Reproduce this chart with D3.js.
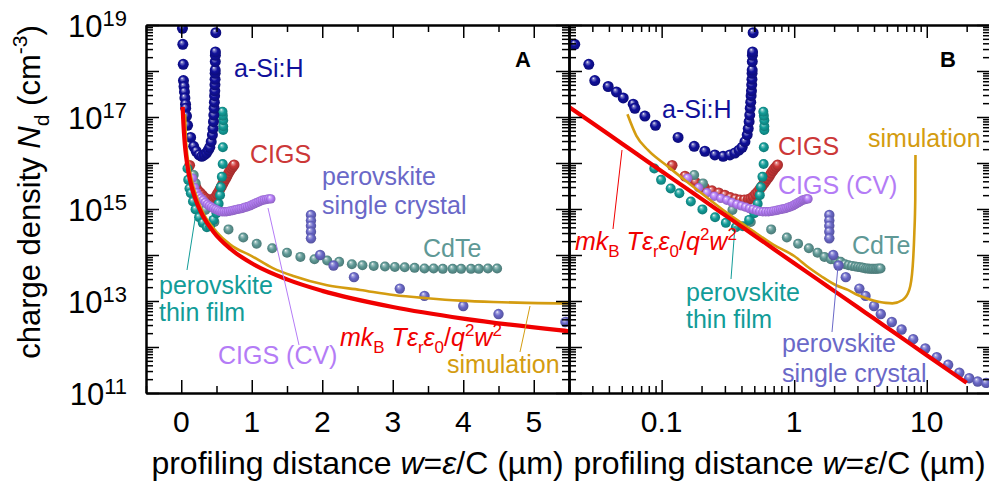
<!DOCTYPE html>
<html>
<head>
<meta charset="utf-8">
<script src="https://cdn.jsdelivr.net/npm/d3@7"></script>
<style>
body { margin: 0; background: #fff; }
text { font-family: "Liberation Sans", Arial, sans-serif; }
</style>
</head>
<body>
<div id="chart"></div>
<script>
// Values: [profiling distance w (um), charge density Nd (cm^-3)]
var aSiH = [[0.017,8.5e18],[0.0221,3.8e18],[0.0282,1.4e18],[0.0313,6.2e17],[0.0395,4.6e17],[0.0456,3.5e17],
    [0.0513,2.6e17],[0.061,1.9e17],[0.0628,1.55e17],[0.0747,1.05e17],[0.0898,6.6e16],[0.133,3.6e16],
    [0.176,2.3e16],[0.212,1.8e16],[0.252,1.5e16],[0.291,1.4e16],[0.327,1.5e16],[0.357,1.65e16],
    [0.383,1.9e16],[0.405,2.2e16],[0.425,2.9e16],[0.442,4.1e16],[0.45,5.6e16],[0.457,7.9e16],
    [0.462,1.1e17],[0.466,1.55e17],[0.47,2.1e17],[0.473,2.9e17],[0.476,3.7e17],[0.478,5.0e17],
    [0.48,6.6e17],[0.481,8.9e17],[0.482,1.05e18],[0.483,1.6e18],[0.484,2.2e18],[0.485,2.6e18],[0.49,6.8e18]];

var cigs = [[0.12,8.9e15],[0.15,5.2e15],[0.18,3.8e15],[0.21,2.95e15],[0.24,2.5e15],[0.27,2.25e15],
    [0.30,2.0e15],[0.33,1.78e15],[0.36,1.66e15],[0.39,1.58e15],[0.42,1.58e15],[0.45,1.62e15],
    [0.47,1.7e15],[0.49,1.86e15],[0.51,2.1e15],[0.53,2.35e15],[0.55,2.7e15],[0.57,3.1e15],
    [0.59,3.55e15],[0.61,4.0e15],[0.63,4.6e15],[0.65,5.2e15],[0.67,6.0e15],[0.69,6.8e15],
    [0.71,7.6e15],[0.73,8.3e15],[0.75,9.1e15]];

var cigsCV = [[0.157,4.7e15],[0.19,2.9e15],[0.22,2.25e15],[0.25,1.9e15],[0.28,1.7e15],[0.31,1.55e15],
    [0.34,1.38e15],[0.37,1.26e15],[0.40,1.17e15],[0.43,1.1e15],[0.46,1.02e15],[0.49,9.8e14],
    [0.52,9.3e14],[0.55,8.9e14],[0.58,8.7e14],[0.61,8.7e14],[0.64,8.7e14],[0.67,8.9e14],
    [0.70,9.1e14],[0.73,9.3e14],[0.76,9.5e14],[0.79,9.8e14],[0.82,1.0e15],[0.85,1.02e15],
    [0.88,1.05e15],[0.91,1.1e15],[0.94,1.12e15],[0.97,1.17e15],[1.00,1.23e15],[1.03,1.29e15],
    [1.06,1.35e15],[1.09,1.41e15],[1.12,1.48e15],[1.15,1.55e15],[1.18,1.58e15],[1.21,1.62e15],
    [1.24,1.66e15],[1.27,1.66e15]];

var thinFilm = [[0.088,7.6e15],[0.099,4.3e15],[0.117,2.8e15],[0.136,2.2e15],[0.166,1.45e15],
    [0.203,9.8e14],[0.253,6.6e14],[0.305,5.0e14],[0.363,4.0e14],[0.41,4.2e14],[0.457,5.8e14],
    [0.50,8.1e14],[0.53,1.3e15],[0.55,2.0e15],[0.56,3.0e15],[0.576,5.0e15],[0.588,9.5e15],
    [0.59,2.2e16],[0.595,5.2e16],[0.595,6.3e16],[0.595,8.5e16],[0.59,1.07e17],[0.585,1.3e17]];

var cdte = [[0.176,5.5e15],[0.205,3.6e15],[0.342,9.5e14],[0.47,5.2e14],[0.67,3.6e14],[0.88,2.4e14],
    [1.07,1.75e14],[1.29,1.4e14],[1.5,1.12e14],[1.69,9.1e13],[1.89,8.1e13],[2.07,7.6e13],
    [2.24,7.1e13],[2.42,6.3e13],[2.57,6.0e13],[2.73,5.8e13],[2.89,5.6e13],[3.03,5.5e13],
    [3.17,5.4e13],[3.31,5.25e13],[3.45,5.1e13],[3.58,5.1e13],[3.71,5.0e13],[3.85,5.0e13],
    [3.97,5.0e13],[4.11,5.0e13],[4.22,5.0e13],[4.35,5.1e13],[4.48,5.1e13]];

var singleCrystal = [[1.84,7.4e14],[1.84,5.6e14],[1.84,4.3e14],[1.84,3.2e14],[1.84,2.3e14],
    [1.97,1.0e14],[2.16,5.9e13],[2.45,3.3e13],[3.1,1.86e13],[3.45,1.29e13],[4.0,7.8e12],
    [4.5,5.2e12],[5.45,3.5e12],[6.46,2.4e12],[7.9,1.48e12],[9.75,9.3e11],[11.9,6.0e11],
    [14.5,4.1e11],[17.6,2.75e11],[20.9,2.1e11],[24.2,1.78e11],[28,1.66e11]];

var simulation = [[0.0552,1.15e17],[0.0645,3.9e16],[0.079,1.9e16],[0.112,8.3e15],[0.15,4.2e15],
    [0.2,2.2e15],[0.3,8.9e14],[0.5,3.2e14],[0.7,1.66e14],[1.0,9.5e13],[1.3,5.2e13],[1.59,3.5e13],
    [2.07,2.2e13],[2.54,1.74e13],[3.01,1.35e13],[3.49,1.15e13],[3.96,1.02e13],[4.43,9.5e12],
    [4.9,9.1e12],[5.5,8.9e12],[6.57,1.05e13],[7.38,1.74e13],[7.83,5.6e13],[8.06,3.0e14],
    [8.19,1.6e15],[8.22,1.5e16]];

// m kB T er e0 / q^2 w^2 curve
var debyeLimit = [[0.02,1.66e17],[0.03,7.4e16],[0.05,2.65e16],[0.07,1.35e16],[0.1,6.6e15],
    [0.15,2.95e15],[0.2,1.66e15],[0.3,7.4e14],[0.45,3.3e14],[0.7,1.35e14],[1,6.6e13],
    [1.5,2.95e13],[2,1.66e13],[3,7.4e12],[4,4.15e12],[5.5,2.2e12],[10,6.6e11],[20,1.66e11]];

var xTicksA = [0, 1, 2, 3, 4, 5];
var xTicksB = [0.1, 1, 10];
var yLabelExps = [11, 13, 15, 17, 19];

var W = 989, H = 486;
var plotTop = 25, plotBottom = 393;

var svg = d3.select('#chart').append('svg')
    .attr('width', W)
    .attr('height', H);
var defs = svg.append('defs');

var y = d3.scaleLog().domain([1e11, 1e19]).range([plotBottom, plotTop]);

var colors = {
    asi: '#10109a', cigs: '#cc3838', cv: '#b47cf6', thin: '#129c98',
    cdte: '#5f9996', sc: '#6a68c8', sim: '#d49c10', red: '#f00000'
};

// shaded ball fill
function ballGradient(id, c) {
    var g = defs.append('radialGradient').attr('id', id)
        .attr('cx', '50%').attr('cy', '50%').attr('r', '55%')
        .attr('fx', '36%').attr('fy', '28%');
    g.append('stop').attr('offset', '0%').attr('stop-color', '#fff');
    g.append('stop').attr('offset', '18%').attr('stop-color', d3.interpolateRgb(c, '#fff')(0.45));
    g.append('stop').attr('offset', '50%').attr('stop-color', c);
    g.append('stop').attr('offset', '100%').attr('stop-color', d3.color(c).darker(0.8));
}
Object.keys(colors).forEach(function(k) { ballGradient('ball-' + k, colors[k]); });

var series = [
    {data: cigs, key: 'cigs', r: 5.4},
    {data: cdte, key: 'cdte', r: 5},
    {data: thinFilm, key: 'thin', r: 5},
    {data: singleCrystal, key: 'sc', r: 5.2},
    {data: cigsCV, key: 'cv', r: 4.7},
    {data: aSiH, key: 'asi', r: 5.5}
];

// text with italic / sub / sup parts
function rich(sel, parts, fs) {
    var shift = 0;
    parts.forEach(function(p) {
        var s = p[1] || '';
        var target = s.indexOf('sub') >= 0 ? 0.28 : (s.indexOf('sup') >= 0 ? -0.42 : 0);
        var small = target !== 0;
        var ts = sel.append('tspan').text(p[0])
            .attr('font-size', small ? fs * 0.68 : fs)
            .attr('dy', (target - shift) * fs);
        if (s.indexOf('i') === 0) ts.attr('font-style', 'italic');
        shift = target;
    });
}

function label(g, x, yy, txt, color, fs) {
    return g.append('text').attr('x', x).attr('y', yy)
        .attr('fill', color).attr('font-size', fs || 25).text(txt);
}

function pointer(g, x1, y1, x2, y2, color) {
    g.append('line').attr('x1', x1).attr('y1', y1).attr('x2', x2).attr('y2', y2)
        .attr('stroke', color).attr('stroke-width', 1);
}

var formulaParts = [['m','i'],['k','i'],['B','sub'],[' T','i'],['\u03b5','i'],['r','sub'],
    ['\u03b5','i'],['0','sub'],['/',''],['q','i'],['2','sup'],['w','i'],['2','sup']];

function drawPanel(p) {
    var x = p.scale;
    var g = svg.append('g');

    g.append('clipPath').attr('id', 'clip-' + p.key)
      .append('rect').attr('x', p.x0).attr('y', plotTop)
        .attr('width', p.x1 - p.x0).attr('height', plotBottom - plotTop);

    var plot = g.append('g').attr('clip-path', 'url(#clip-' + p.key + ')');

    series.forEach(function(s) {
        plot.append('g').selectAll('circle')
            .data(s.data)
          .enter().append('circle')
            .attr('cx', function(d) { return x(d[0]); })
            .attr('cy', function(d) { return y(d[1]); })
            .attr('r', s.r)
            .attr('fill', 'url(#ball-' + s.key + ')');
    });

    var line = d3.line()
        .x(function(d) { return x(d[0]); })
        .y(function(d) { return y(d[1]); })
        .curve(d3.curveMonotoneX);

    plot.append('path').datum(simulation)
        .attr('d', line).attr('fill', 'none')
        .attr('stroke', colors.sim).attr('stroke-width', 2.6);

    plot.append('path').datum(debyeLimit)
        .attr('d', line).attr('fill', 'none')
        .attr('stroke', colors.red).attr('stroke-width', 4.2);

    // axes: major + minor ticks on all four sides, pointing inward
    var yMajor = d3.range(11, 20).map(function(e) { return Math.pow(10, e); });
    var yMinor = [];
    d3.range(11, 19).forEach(function(e) {
        d3.range(2, 10).forEach(function(m) { yMinor.push(m * Math.pow(10, e)); });
    });

    function axisG(axis, tx, ty) {
        var a = g.append('g')
            .attr('transform', 'translate(' + tx + ',' + ty + ')')
            .call(axis);
        a.selectAll('text').remove();
        a.select('.domain').attr('stroke-width', 2);
        a.selectAll('.tick line').attr('stroke-width', 1.5);
        return a;
    }

    [[d3.axisLeft, p.x0], [d3.axisRight, p.x1]].forEach(function(s) {
        axisG(s[0](y).tickValues(yMajor).tickSize(-13).tickSizeOuter(0), s[1], 0);
        axisG(s[0](y).tickValues(yMinor).tickSize(-7).tickSizeOuter(0), s[1], 0);
    });
    [[d3.axisBottom, plotBottom], [d3.axisTop, plotTop]].forEach(function(s) {
        axisG(s[0](x).tickValues(p.major).tickSize(-13).tickSizeOuter(0), 0, s[1]);
        axisG(s[0](x).tickValues(p.minor).tickSize(-7).tickSizeOuter(0), 0, s[1]);
    });

    // tick labels
    g.selectAll('.xlab').data(p.labels).enter().append('text')
        .attr('x', function(d) { return x(d); })
        .attr('y', 432)
        .attr('text-anchor', 'middle')
        .attr('font-size', 30)
        .text(function(d) { return d; });

    // axis title
    var t = g.append('text').attr('x', (p.x0 + p.x1) / 2).attr('y', 474)
        .attr('text-anchor', 'middle');
    rich(t, [['profiling distance ',''],['w','i'],['=',''],['\u03b5','i'],['/C (\u00b5m)','']], 32);

    // panel letter
    g.append('text').attr('x', p.letterX).attr('y', 67)
        .attr('font-size', 22).attr('font-weight', 'bold').text(p.key);

    p.annotate(g);
}

var panels = [
    {
        key: 'A', x0: 146, x1: 569, letterX: 515,
        scale: d3.scaleLinear().domain([-0.5, 5.5]).range([146, 569]),
        major: xTicksA, minor: d3.range(-0.5, 5.6, 0.5).filter(function(v) { return v % 1 !== 0; }),
        labels: xTicksA,
        annotate: function(g) {
            label(g, 234, 77, 'a-Si:H', colors.asi);
            label(g, 250, 163, 'CIGS', colors.cigs);
            label(g, 322, 185, 'perovskite', colors.sc);
            label(g, 322, 214, 'single crystal', colors.sc);
            label(g, 423, 257, 'CdTe', colors.cdte);
            label(g, 159, 294, 'perovskite', colors.thin);
            label(g, 159, 321, 'thin film', colors.thin);
            pointer(g, 187, 270, 195, 219, colors.thin);
            label(g, 218, 364, 'CIGS (CV)', colors.cv);
            pointer(g, 299, 345, 268, 208, colors.cv);
            label(g, 447, 373, 'simulation', colors.sim);
            pointer(g, 520, 352, 530, 306, colors.sim);
            var f = g.append('text').attr('x', 340).attr('y', 346).attr('fill', colors.red);
            rich(f, formulaParts, 25);
        }
    },
    {
        key: 'B', x0: 569, x1: 990, letterX: 940,
        scale: d3.scaleLog().domain([0.02, 30]).range([569, 990]),
        major: xTicksB,
        minor: [0.02,0.03,0.04,0.05,0.06,0.07,0.08,0.09,0.2,0.3,0.4,0.5,0.6,0.7,0.8,0.9,
            2,3,4,5,6,7,8,9,20,30],
        labels: xTicksB,
        annotate: function(g) {
            label(g, 662, 118, 'a-Si:H', colors.asi);
            label(g, 778, 155, 'CIGS', colors.cigs);
            label(g, 778, 194, 'CIGS (CV)', colors.cv);
            label(g, 868, 147, 'simulation', colors.sim);
            label(g, 852, 254, 'CdTe', colors.cdte);
            label(g, 686, 301, 'perovskite', colors.thin);
            label(g, 686, 328, 'thin film', colors.thin);
            pointer(g, 731, 279, 735, 226, colors.thin);
            label(g, 782, 352, 'perovskite', colors.sc);
            label(g, 782, 382, 'single crystal', colors.sc);
            pointer(g, 832, 332, 838, 266, colors.sc);
            var f = g.append('text').attr('x', 575).attr('y', 250).attr('fill', colors.red);
            rich(f, formulaParts, 25);
            pointer(g, 613, 229, 622, 150, colors.red);
        }
    }
];

panels.forEach(drawPanel);

// y tick labels (every other decade)
yLabelExps.forEach(function(e) {
    var t = svg.append('text').attr('x', 127).attr('y', y(Math.pow(10, e)) + 12)
        .attr('text-anchor', 'end');
    t.append('tspan').attr('font-size', 31).text('10');
    t.append('tspan').attr('font-size', 22).attr('dy', -11).text(e);
});

// y axis title
var yt = svg.append('text')
    .attr('transform', 'translate(40,192) rotate(-90)')
    .attr('text-anchor', 'middle');
rich(yt, [['charge density ',''],['N','i'],['d','sub'],[' (cm',''],['-3','sup'],[')','']], 31);
</script>
</body>
</html>
